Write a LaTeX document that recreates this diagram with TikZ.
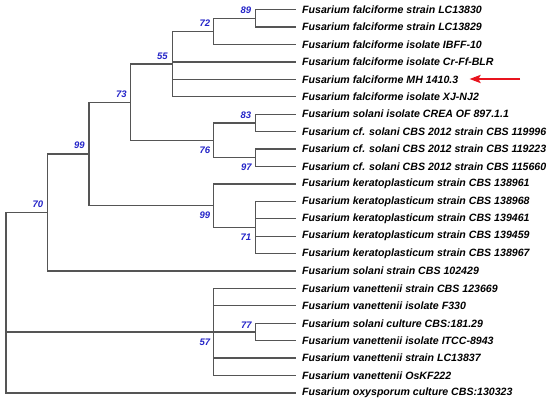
\documentclass[tikz,border=0pt]{standalone}
\usepackage{fontspec}
\setmainfont{Liberation Sans}
\usepackage{tikz}
\usetikzlibrary{arrows.meta}
\definecolor{branchgray}{HTML}{555555}
\definecolor{bootblue}{HTML}{2424C8}
\definecolor{markred}{HTML}{E8141E}

\begin{document}
\begin{tikzpicture}[x=1pt, y=-1pt,
  branch/.style={draw=branchgray, line width=1.25pt},
  taxon/.style={anchor=west, inner xsep=6pt, inner ysep=0pt, font=\fontsize{10.6}{12}\selectfont\bfseries\itshape},
  boot/.style={inner sep=0pt, text=bootblue, font=\fontsize{9.5}{11}\selectfont\bfseries\itshape}]
\useasboundingbox[fill=white] (0,0) rectangle (550,402);

% taxa
\node[taxon] (l1) at (296, 9.7) {Fusarium falciforme strain LC13830};
\node[taxon] (l2) at (296, 27.1) {Fusarium falciforme strain LC13829};
\node[taxon] (l3) at (296, 44.5) {Fusarium falciforme isolate IBFF-10};
\node[taxon] (l4) at (296, 62.0) {Fusarium falciforme isolate Cr-Ff-BLR};
\node[taxon] (l5) at (296, 79.4) {Fusarium falciforme MH 1410.3};
\node[taxon] (l6) at (296, 96.8) {Fusarium falciforme isolate XJ-NJ2};
\node[taxon] (l7) at (296, 114.2) {Fusarium solani isolate CREA OF 897.1.1};
\node[taxon] (l8) at (296, 131.6) {Fusarium cf. solani CBS 2012 strain CBS 119996};
\node[taxon] (l9) at (296, 149.1) {Fusarium cf. solani CBS 2012 strain CBS 119223};
\node[taxon] (l10) at (296, 166.5) {Fusarium cf. solani CBS 2012 strain CBS 115660};
\node[taxon] (l11) at (296, 183.9) {Fusarium keratoplasticum strain CBS 138961};
\node[taxon] (l12) at (296, 201.3) {Fusarium keratoplasticum strain CBS 138968};
\node[taxon] (l13) at (296, 218.7) {Fusarium keratoplasticum strain CBS 139461};
\node[taxon] (l14) at (296, 236.2) {Fusarium keratoplasticum strain CBS 139459};
\node[taxon] (l15) at (296, 253.6) {Fusarium keratoplasticum strain CBS 138967};
\node[taxon] (l16) at (296, 271.0) {Fusarium solani strain CBS 102429};
\node[taxon] (l17) at (296, 288.4) {Fusarium vanettenii strain CBS 123669};
\node[taxon] (l18) at (296, 305.8) {Fusarium vanettenii isolate F330};
\node[taxon] (l19) at (296, 323.3) {Fusarium solani culture CBS:181.29};
\node[taxon] (l20) at (296, 340.7) {Fusarium vanettenii isolate ITCC-8943};
\node[taxon] (l21) at (296, 358.1) {Fusarium vanettenii strain LC13837};
\node[taxon] (l22) at (296, 375.5) {Fusarium vanettenii OsKF222};
\node[taxon] (l23) at (296, 392.9) {Fusarium oxysporum culture CBS:130323};

% internal nodes
\coordinate (root) at (6, 302.7);
\coordinate (n70) at (47.7, 212.5);
\coordinate (n99a) at (89, 154);
\coordinate (n73) at (130.7, 102.2);
\coordinate (n55) at (172.3, 64.1);
\coordinate (n72) at (213.3, 31.5);
\coordinate (n89) at (255.3, 18.4);
\coordinate (n76) at (213.3, 140.3);
\coordinate (n83) at (255.3, 122.9);
\coordinate (n97) at (255.3, 157.8);
\coordinate (n99b) at (213.3, 205.7);
\coordinate (n71) at (255.3, 227.5);
\coordinate (n57) at (213.3, 332);
\coordinate (n77) at (255.3, 332);

% branches
\draw[branch] (root) |- (n70);
\draw[branch] (root) |- (n57);
\draw[branch] (root) |- (l23.west);

\draw[branch] (n70) |- (n99a);
\draw[branch] (n70) |- (l16.west);

\draw[branch] (n99a) |- (n73);
\draw[branch] (n99a) |- (n99b);

\draw[branch] (n73) |- (n55);
\draw[branch] (n73) |- (n76);

\draw[branch] (n55) |- (n72);
\draw[branch] (n55) |- (l4.west);
\draw[branch] (n55) |- (l5.west);
\draw[branch] (n55) |- (l6.west);

\draw[branch] (n72) |- (n89);
\draw[branch] (n72) |- (l3.west);
\draw[branch] (n89) |- (l1.west);
\draw[branch] (n89) |- (l2.west);

\draw[branch] (n76) |- (n83);
\draw[branch] (n76) |- (n97);
\draw[branch] (n83) |- (l7.west);
\draw[branch] (n83) |- (l8.west);
\draw[branch] (n97) |- (l9.west);
\draw[branch] (n97) |- (l10.west);

\draw[branch] (n99b) |- (l11.west);
\draw[branch] (n99b) |- (n71);
\draw[branch] (n71) |- (l12.west);
\draw[branch] (n71) |- (l13.west);
\draw[branch] (n71) |- (l14.west);
\draw[branch] (n71) |- (l15.west);

\draw[branch] (n57) |- (l17.west);
\draw[branch] (n57) |- (l18.west);
\draw[branch] (n57) |- (n77);
\draw[branch] (n57) |- (l21.west);
\draw[branch] (n57) |- (l22.west);
\draw[branch] (n77) |- (l19.west);
\draw[branch] (n77) |- (l20.west);

% bootstrap values
\node[boot] (b89) at (246, 10) {89};
\node[boot] (b72) at (205, 23.3) {72};
\node[boot] (b55) at (162.5, 56) {55};
\node[boot] (b73) at (121.5, 94.3) {73};
\node[boot] (b99a) at (79.5, 145.7) {99};
\node[boot] (b70) at (38, 204.7) {70};
\node[boot] (b83) at (246, 115) {83};
\node[boot] (b76) at (205, 150) {76};
\node[boot] (b97) at (246.5, 167.3) {97};
\node[boot] (b99b) at (205, 215.3) {99};
\node[boot] (b71) at (246, 237.7) {71};
\node[boot] (b77) at (246.5, 325) {77};
\node[boot] (b57) at (205, 342.7) {57};

% marker
\coordinate (tail) at (520, 79);
\coordinate (tip) at (469.5, 79);
\draw[markred, line width=2.4pt, -{Stealth[length=11pt, width=8pt, inset=2pt]}] (tail) -- (tip);
\end{tikzpicture}
\end{document}
